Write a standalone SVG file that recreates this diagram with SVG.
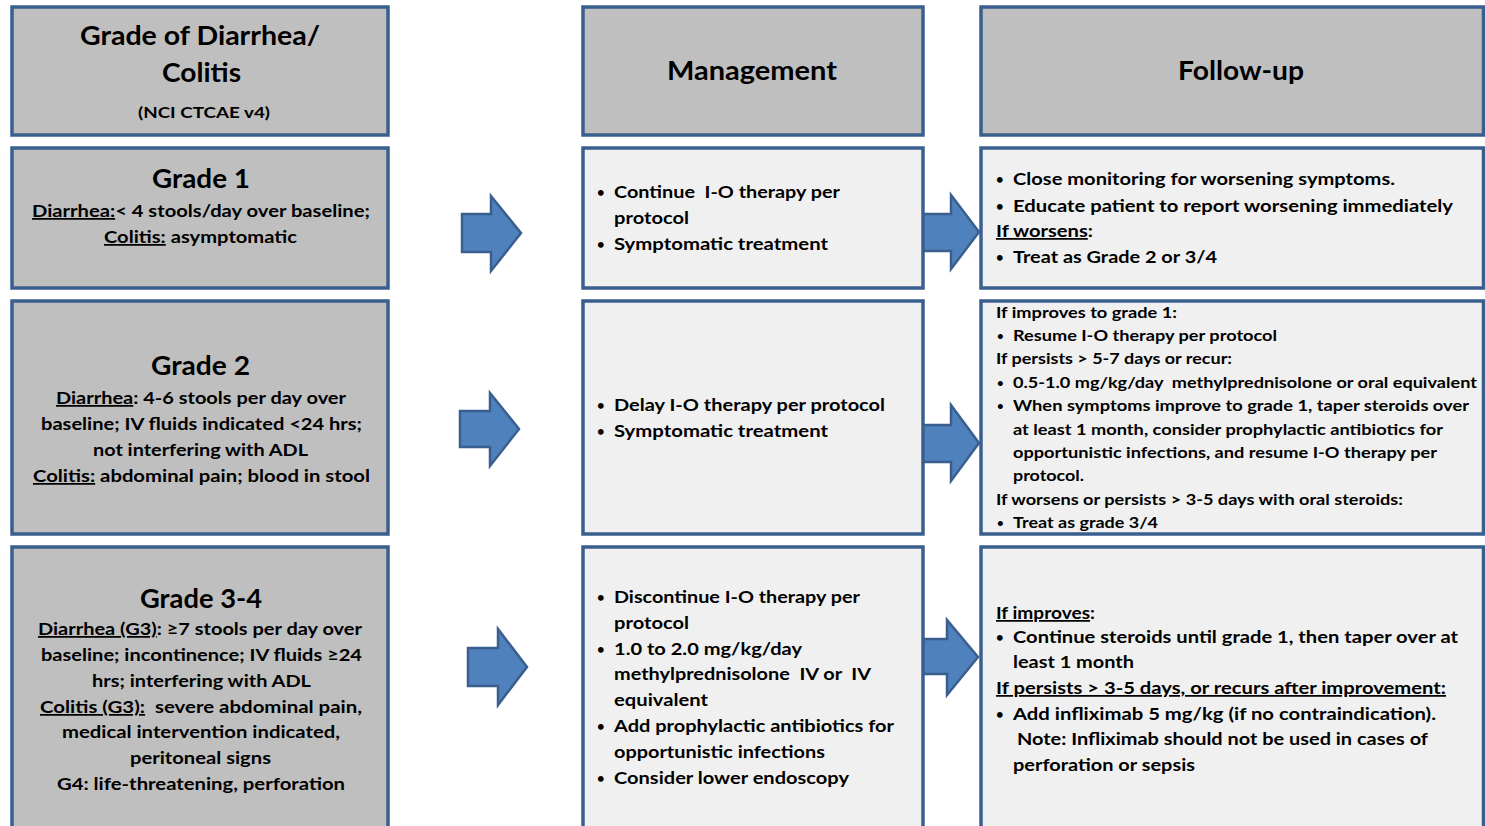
<svg xmlns="http://www.w3.org/2000/svg" width="1485" height="826" viewBox="0 0 1485 826">
<style>
.bg{fill:#bfbfbf;stroke:#3a5f8e;stroke-width:3.5}
.bl{fill:#f0f0f0;stroke:#3a5f8e;stroke-width:3.5}
.arrow{fill:#4f81bd;stroke:#3a5f8e;stroke-width:2.5;stroke-linejoin:miter}
text{font-family:Lato,"Liberation Sans",sans-serif;font-weight:bold;fill:#000}
.h{font-size:26px}
.t{font-size:17.5px}
.s{font-size:15px}
.n{font-size:15.5px}
.b{font-size:13px}
.bs{font-size:11.5px}
.u{text-decoration:underline}
</style>
<rect width="1485" height="826" fill="#ffffff"/>
<g id="connectors">
<polygon class="arrow" points="462,214 491,214 491,196 521,233 491,271 491,252 462,252"/>
<polygon class="arrow" points="921,214 951,214 951,195 979,232 951,269 951,251 921,251"/>
<polygon class="arrow" points="460,411 490,411 490,393 519,429 490,466 490,447 460,447"/>
<polygon class="arrow" points="921,425 951,425 951,405 979,443 951,481 951,462 921,462"/>
<polygon class="arrow" points="468,648 498,648 498,629 527,667 498,705 498,686 468,686"/>
<polygon class="arrow" points="921,639 947,639 947,620 978,657 947,695 947,674 921,674"/>
</g>
<g id="hdr-grade">
<rect class="bg" x="12" y="7" width="376" height="128"/>
<text class="h" x="80" y="45" textLength="240" lengthAdjust="spacingAndGlyphs">Grade of Diarrhea/</text>
<text class="h" x="162" y="82" textLength="79" lengthAdjust="spacingAndGlyphs">Colitis</text>
<text class="n" x="138" y="118" textLength="132" lengthAdjust="spacingAndGlyphs">(NCI CTCAE v4)</text>
</g>
<g id="hdr-management">
<rect class="bg" x="583" y="7" width="340" height="128"/>
<text class="h" x="667" y="80" textLength="170" lengthAdjust="spacingAndGlyphs">Management</text>
</g>
<g id="hdr-followup">
<rect class="bg" x="981" y="7" width="502.5" height="128"/>
<text class="h" x="1178" y="80" textLength="126" lengthAdjust="spacingAndGlyphs">Follow-up</text>
</g>
<g id="grade1">
<rect class="bg" x="12" y="148" width="376" height="140"/>
<text class="h" x="152" y="188" textLength="98" lengthAdjust="spacingAndGlyphs">Grade 1</text>
<text class="t" x="32" y="217" textLength="338" lengthAdjust="spacingAndGlyphs"><tspan class="u">Diarrhea:</tspan>&lt; 4 stools/day over baseline;</text>
<text class="t" x="104" y="243" textLength="193" lengthAdjust="spacingAndGlyphs"><tspan class="u">Colitis:</tspan> asymptomatic</text>
</g>
<g id="grade1-management">
<rect class="bl" x="583" y="148" width="340" height="140"/>
<text class="b" x="597" y="197">•</text>
<text class="t" x="614" y="198" textLength="226" lengthAdjust="spacingAndGlyphs">Continue &#160;I-O therapy per</text>
<text class="t" x="614" y="224" textLength="75" lengthAdjust="spacingAndGlyphs">protocol</text>
<text class="b" x="597" y="249">•</text>
<text class="t" x="614" y="250" textLength="214" lengthAdjust="spacingAndGlyphs">Symptomatic treatment</text>
</g>
<g id="grade1-followup">
<rect class="bl" x="981" y="148" width="502.5" height="140"/>
<text class="b" x="996" y="184">•</text>
<text class="t" x="1013" y="185" textLength="382" lengthAdjust="spacingAndGlyphs">Close monitoring for worsening symptoms.</text>
<text class="b" x="996" y="211">•</text>
<text class="t" x="1013" y="212" textLength="440" lengthAdjust="spacingAndGlyphs">Educate patient to report worsening immediately</text>
<text class="t" x="996" y="237" textLength="97" lengthAdjust="spacingAndGlyphs"><tspan class="u">If worsens</tspan>:</text>
<text class="b" x="996" y="262">•</text>
<text class="t" x="1013" y="263" textLength="204" lengthAdjust="spacingAndGlyphs">Treat as Grade 2 or 3/4</text>
</g>
<g id="grade2">
<rect class="bg" x="12" y="301" width="376" height="233"/>
<text class="h" x="151" y="375" textLength="99" lengthAdjust="spacingAndGlyphs">Grade 2</text>
<text class="t" x="56" y="404" textLength="290" lengthAdjust="spacingAndGlyphs"><tspan class="u">Diarrhea</tspan>: 4-6 stools per day over</text>
<text class="t" x="41" y="430" textLength="321" lengthAdjust="spacingAndGlyphs">baseline; IV fluids indicated &lt;24 hrs;</text>
<text class="t" x="93" y="456" textLength="215" lengthAdjust="spacingAndGlyphs">not interfering with ADL</text>
<text class="t" x="33" y="482" textLength="337" lengthAdjust="spacingAndGlyphs"><tspan class="u">Colitis:</tspan> abdominal pain; blood in stool</text>
</g>
<g id="grade2-management">
<rect class="bl" x="583" y="301" width="340" height="233"/>
<text class="b" x="597" y="410">•</text>
<text class="t" x="614" y="411" textLength="271" lengthAdjust="spacingAndGlyphs">Delay I-O therapy per protocol</text>
<text class="b" x="597" y="436">•</text>
<text class="t" x="614" y="437" textLength="214" lengthAdjust="spacingAndGlyphs">Symptomatic treatment</text>
</g>
<g id="grade2-followup">
<rect class="bl" x="981" y="301" width="502.5" height="233"/>
<text class="s" x="996" y="318" textLength="181" lengthAdjust="spacingAndGlyphs">If improves to grade 1:</text>
<text class="bs" x="997" y="340">•</text>
<text class="s" x="1013" y="341" textLength="264" lengthAdjust="spacingAndGlyphs">Resume I-O therapy per protocol</text>
<text class="s" x="996" y="364" textLength="236" lengthAdjust="spacingAndGlyphs">If persists &gt; 5-7 days or recur:</text>
<text class="bs" x="997" y="387">•</text>
<text class="s" x="1013" y="388" textLength="464" lengthAdjust="spacingAndGlyphs">0.5-1.0 mg/kg/day &#160;methylprednisolone or oral equivalent</text>
<text class="bs" x="997" y="410">•</text>
<text class="s" x="1013" y="411" textLength="456" lengthAdjust="spacingAndGlyphs">When symptoms improve to grade 1, taper steroids over</text>
<text class="s" x="1013" y="435" textLength="430" lengthAdjust="spacingAndGlyphs">at least 1 month, consider prophylactic antibiotics for</text>
<text class="s" x="1013" y="458" textLength="424" lengthAdjust="spacingAndGlyphs">opportunistic infections, and resume I-O therapy per</text>
<text class="s" x="1013" y="481" textLength="71" lengthAdjust="spacingAndGlyphs">protocol.</text>
<text class="s" x="996" y="505" textLength="407" lengthAdjust="spacingAndGlyphs">If worsens or persists &gt; 3-5 days with oral steroids:</text>
<text class="bs" x="997" y="527">•</text>
<text class="s" x="1013" y="528" textLength="145" lengthAdjust="spacingAndGlyphs">Treat as grade 3/4</text>
</g>
<g id="grade34">
<rect class="bg" x="12" y="547" width="376" height="300"/>
<text class="h" x="140" y="608" textLength="122" lengthAdjust="spacingAndGlyphs">Grade 3-4</text>
<text class="t" x="38" y="635" textLength="324" lengthAdjust="spacingAndGlyphs"><tspan class="u">Diarrhea (G3)</tspan>: ≥7 stools per day over</text>
<text class="t" x="41" y="661" textLength="321" lengthAdjust="spacingAndGlyphs">baseline; incontinence; IV fluids ≥24</text>
<text class="t" x="92" y="687" textLength="219" lengthAdjust="spacingAndGlyphs">hrs; interfering with ADL</text>
<text class="t" x="40" y="713" textLength="322" lengthAdjust="spacingAndGlyphs"><tspan class="u">Colitis (G3):</tspan> &#160;severe abdominal pain,</text>
<text class="t" x="62" y="738" textLength="278" lengthAdjust="spacingAndGlyphs">medical intervention indicated,</text>
<text class="t" x="130" y="764" textLength="141" lengthAdjust="spacingAndGlyphs">peritoneal signs</text>
<text class="t" x="57" y="790" textLength="288" lengthAdjust="spacingAndGlyphs">G4: life-threatening, perforation</text>
</g>
<g id="grade34-management">
<rect class="bl" x="583" y="547" width="340" height="300"/>
<text class="b" x="597" y="602">•</text>
<text class="t" x="614" y="603" textLength="246" lengthAdjust="spacingAndGlyphs">Discontinue I-O therapy per</text>
<text class="t" x="614" y="629" textLength="75" lengthAdjust="spacingAndGlyphs">protocol</text>
<text class="b" x="597" y="654">•</text>
<text class="t" x="614" y="655" textLength="188" lengthAdjust="spacingAndGlyphs">1.0 to 2.0 mg/kg/day</text>
<text class="t" x="614" y="680" textLength="257" lengthAdjust="spacingAndGlyphs">methylprednisolone &#160;IV or &#160;IV</text>
<text class="t" x="614" y="706" textLength="94" lengthAdjust="spacingAndGlyphs">equivalent</text>
<text class="b" x="597" y="731">•</text>
<text class="t" x="614" y="732" textLength="280" lengthAdjust="spacingAndGlyphs">Add prophylactic antibiotics for</text>
<text class="t" x="614" y="758" textLength="211" lengthAdjust="spacingAndGlyphs">opportunistic infections</text>
<text class="b" x="597" y="783">•</text>
<text class="t" x="614" y="784" textLength="235" lengthAdjust="spacingAndGlyphs">Consider lower endoscopy</text>
</g>
<g id="grade34-followup">
<rect class="bl" x="981" y="547" width="502.5" height="300"/>
<text class="t" x="996" y="619" textLength="99" lengthAdjust="spacingAndGlyphs"><tspan class="u">If improves</tspan>:</text>
<text class="b" x="996" y="642">•</text>
<text class="t" x="1013" y="643" textLength="445" lengthAdjust="spacingAndGlyphs">Continue steroids until grade 1, then taper over at</text>
<text class="t" x="1013" y="668" textLength="121" lengthAdjust="spacingAndGlyphs">least 1 month</text>
<text class="t" x="996" y="694" textLength="450" lengthAdjust="spacingAndGlyphs"><tspan class="u">If persists &gt; 3-5 days, or recurs after improvement:</tspan></text>
<text class="b" x="996" y="719">•</text>
<text class="t" x="1013" y="720" textLength="423" lengthAdjust="spacingAndGlyphs">Add infliximab 5 mg/kg (if no contraindication).</text>
<text class="t" x="1017" y="745" textLength="411" lengthAdjust="spacingAndGlyphs">Note: Infliximab should not be used in cases of</text>
<text class="t" x="1013" y="771" textLength="182" lengthAdjust="spacingAndGlyphs">perforation or sepsis</text>
</g>
</svg>
